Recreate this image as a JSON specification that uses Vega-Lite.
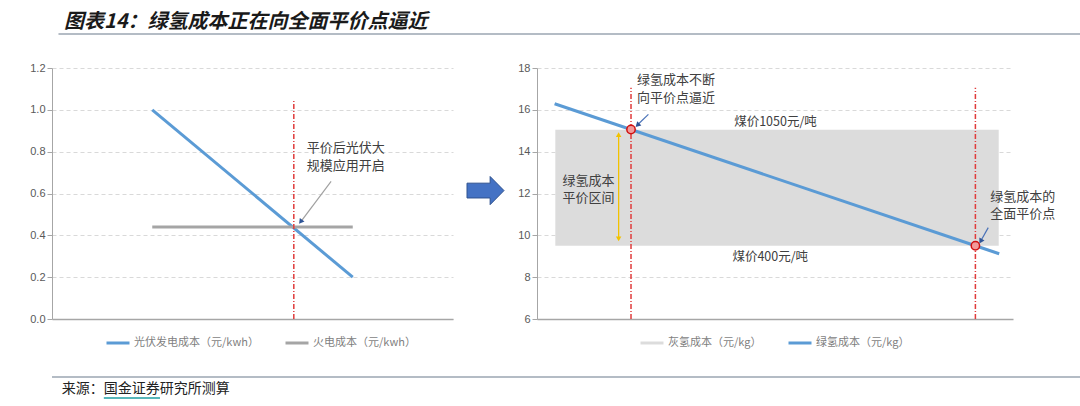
{
  "$schema": "https://vega.github.io/schema/vega-lite/v6.json",
  "background": "white",
  "padding": {"top": 8, "left": 0, "right": 0, "bottom": 0},
  "spacing": 27,
  "vconcat": [
    {
      "width": 1080,
      "height": 26,
      "layer": [
        {
          "data": {"values": [{"x": 1.1, "y": 0.46, "t": "图表14：绿氢成本正在向全面平价点逼近"}]},
          "mark": {"type": "text", "align": "left", "baseline": "middle", "fontSize": 20, "fontWeight": "bold", "fontStyle": "italic", "color": "#1a1a1a"},
          "encoding": {
            "x": {"field": "x", "type": "quantitative", "scale": {"domain": [0, 100]}, "axis": null},
            "y": {"field": "y", "type": "quantitative", "scale": {"domain": [0, 1]}, "axis": null},
            "text": {"field": "t"}
          }
        },
        {
          "data": {"values": [{"x": 0.6, "x2": 100, "y": 0}]},
          "mark": {"type": "rule", "color": "#6b7b8c", "strokeWidth": 1.2},
          "encoding": {
            "x": {"field": "x", "type": "quantitative"},
            "x2": {"field": "x2"},
            "y": {"field": "y", "type": "quantitative"}
          }
        }
      ]
    },
    {
      "spacing": 0,
      "resolve": {"scale": {"color": "independent"}, "legend": {"color": "independent"}},
      "hconcat": [
        {
          "width": 401,
          "height": 251,
          "layer": [
            {
              "data": {"values": [
                {"x": 25, "y": 1.0, "s": "光伏发电成本（元/kwh）"},
                {"x": 75, "y": 0.2, "s": "光伏发电成本（元/kwh）"},
                {"x": 25, "y": 0.44, "s": "火电成本（元/kwh）"},
                {"x": 75, "y": 0.44, "s": "火电成本（元/kwh）"}
              ]},
              "mark": {"type": "line", "strokeWidth": 3},
              "encoding": {
                "x": {"field": "x", "type": "quantitative", "scale": {"domain": [0, 100]},
                  "axis": {"labels": false, "ticks": false, "grid": false, "domainWidth": 1.5}},
                "y": {"field": "y", "type": "quantitative", "scale": {"domain": [0, 1.2]},
                  "axis": {"values": [0, 0.2, 0.4, 0.6, 0.8, 1, 1.2], "format": ".1f", "minExtent": 52, "grid": true}},
                "color": {"field": "s", "type": "nominal",
                  "scale": {"domain": ["光伏发电成本（元/kwh）", "火电成本（元/kwh）"], "range": ["#5b9bd5", "#a5a5a5"]},
                  "legend": {"orient": "none", "legendX": 53, "legendY": 262, "direction": "horizontal", "title": null}}
              }
            },
            {
              "data": {"values": [{"x": 60.3, "y": 0, "y2": 1.047}]},
              "mark": {"type": "rule", "color": "#e03c3c", "strokeWidth": 1.5, "strokeDash": [5, 2, 1, 2]},
              "encoding": {
                "x": {"field": "x", "type": "quantitative"},
                "y": {"field": "y", "type": "quantitative"},
                "y2": {"field": "y2"}
              }
            },
            {
              "data": {"values": [{"x": 69.6, "y": 0.658, "x2": 62.3, "y2": 0.472}]},
              "mark": {"type": "rule", "color": "#a0a0a0", "strokeWidth": 1.2},
              "encoding": {
                "x": {"field": "x", "type": "quantitative"},
                "y": {"field": "y", "type": "quantitative"},
                "x2": {"field": "x2"},
                "y2": {"field": "y2"}
              }
            },
            {
              "data": {"values": [{"x": 62.0, "y": 0.465}]},
              "mark": {"type": "point", "shape": "triangle-up", "angle": 217, "size": 35, "filled": true, "color": "#2f5597", "opacity": 1},
              "encoding": {
                "x": {"field": "x", "type": "quantitative"},
                "y": {"field": "y", "type": "quantitative"}
              }
            },
            {
              "data": {"values": [
                {"x": 63.5, "y": 0.817, "t": "平价后光伏大"},
                {"x": 63.5, "y": 0.733, "t": "规模应用开启"}
              ]},
              "mark": {"type": "text", "align": "left", "baseline": "middle", "fontSize": 13, "color": "#404040"},
              "encoding": {
                "x": {"field": "x", "type": "quantitative"},
                "y": {"field": "y", "type": "quantitative"},
                "text": {"field": "t"}
              }
            }
          ]
        },
        {
          "width": 58,
          "height": 251,
          "data": {"values": [{"x": 32.5, "y": 12.14}]},
          "mark": {"type": "point", "shape": "M-1,-0.4L0.25,-0.4L0.25,-0.76L1,0L0.25,0.76L0.25,0.4L-1,0.4Z", "size": 1369, "filled": true, "fill": "#4472c4", "stroke": "#2f528f", "strokeWidth": 1, "opacity": 1},
          "encoding": {
            "x": {"field": "x", "type": "quantitative", "scale": {"domain": [0, 58]}, "axis": null},
            "y": {"field": "y", "type": "quantitative", "scale": {"domain": [6, 18]}, "axis": null}
          }
        },
        {
          "width": 476,
          "height": 251,
          "layer": [
            {
              "data": {"values": [{"x": 3.85, "x2": 97.0, "y": 9.5, "y2": 15.05}]},
              "mark": {"type": "rect", "color": "#dcdcdc", "opacity": 1},
              "encoding": {
                "x": {"field": "x", "type": "quantitative", "scale": {"domain": [0, 100]},
                  "axis": {"labels": false, "ticks": false, "grid": false, "domainWidth": 1.5}},
                "x2": {"field": "x2"},
                "y": {"field": "y", "type": "quantitative", "scale": {"domain": [6, 18]},
                  "axis": {"values": [6, 8, 10, 12, 14, 16, 18], "format": "d", "minExtent": 26, "grid": true}},
                "y2": {"field": "y2"}
              }
            },
            {
              "data": {"values": [
                {"x": 3.7, "y": 16.29, "s": "绿氢成本（元/kg）"},
                {"x": 97.1, "y": 9.12, "s": "绿氢成本（元/kg）"}
              ]},
              "mark": {"type": "line", "strokeWidth": 3},
              "encoding": {
                "x": {"field": "x", "type": "quantitative"},
                "y": {"field": "y", "type": "quantitative"},
                "color": {"field": "s", "type": "nominal",
                  "scale": {"domain": ["灰氢成本（元/kg）", "绿氢成本（元/kg）"], "range": ["#dcdcdc", "#5b9bd5"]},
                  "legend": {"orient": "none", "legendX": 102, "legendY": 262, "direction": "horizontal", "title": null, "symbolType": "stroke"}}
              }
            },
            {
              "data": {"values": [
                {"x": 19.75, "y": 6, "y2": 17.05},
                {"x": 92.1, "y": 6, "y2": 17.05}
              ]},
              "mark": {"type": "rule", "color": "#e03c3c", "strokeWidth": 1.5, "strokeDash": [5, 2, 1, 2]},
              "encoding": {
                "x": {"field": "x", "type": "quantitative"},
                "y": {"field": "y", "type": "quantitative"},
                "y2": {"field": "y2"}
              }
            },
            {
              "data": {"values": [{"x": 17.15, "y": 9.85, "y2": 14.8}]},
              "mark": {"type": "rule", "color": "#f2c200", "strokeWidth": 1.3},
              "encoding": {
                "x": {"field": "x", "type": "quantitative"},
                "y": {"field": "y", "type": "quantitative"},
                "y2": {"field": "y2"}
              }
            },
            {
              "data": {"values": [
                {"x": 17.15, "y": 14.82, "shape": "triangle-up"},
                {"x": 17.15, "y": 9.83, "shape": "triangle-down"}
              ]},
              "mark": {"type": "point", "size": 30, "filled": true, "color": "#f2c200", "opacity": 1},
              "encoding": {
                "x": {"field": "x", "type": "quantitative"},
                "y": {"field": "y", "type": "quantitative"},
                "shape": {"field": "shape", "type": "nominal", "scale": null}
              }
            },
            {
              "data": {"values": [
                {"x": 19.75, "y": 15.06},
                {"x": 92.1, "y": 9.5}
              ]},
              "mark": {"type": "point", "shape": "circle", "size": 70, "filled": true, "fill": "#f29a9a", "stroke": "#d01010", "strokeWidth": 1.5, "opacity": 1},
              "encoding": {
                "x": {"field": "x", "type": "quantitative"},
                "y": {"field": "y", "type": "quantitative"}
              }
            },
            {
              "data": {"values": [
                {"x": 23.4, "y": 15.78, "x2": 21.3, "y2": 15.32},
                {"x": 94.8, "y": 10.37, "x2": 93.4, "y2": 9.8}
              ]},
              "mark": {"type": "rule", "color": "#4a72b8", "strokeWidth": 1.2},
              "encoding": {
                "x": {"field": "x", "type": "quantitative"},
                "y": {"field": "y", "type": "quantitative"},
                "x2": {"field": "x2"},
                "y2": {"field": "y2"}
              }
            },
            {
              "data": {"values": [
                {"x": 21.1, "y": 15.27, "a": 226},
                {"x": 93.2, "y": 9.72, "a": 210}
              ]},
              "mark": {"type": "point", "shape": "triangle-up", "size": 35, "filled": true, "color": "#2f5597", "opacity": 1},
              "encoding": {
                "x": {"field": "x", "type": "quantitative"},
                "y": {"field": "y", "type": "quantitative"},
                "angle": {"field": "a", "type": "quantitative", "scale": null}
              }
            },
            {
              "data": {"values": [
                {"x": 21.0, "y": 17.45, "t": "绿氢成本不断"},
                {"x": 21.0, "y": 16.55, "t": "向平价点逼近"},
                {"x": 95.2, "y": 11.85, "t": "绿氢成本的"},
                {"x": 95.2, "y": 11.04, "t": "全面平价点"}
              ]},
              "mark": {"type": "text", "align": "left", "baseline": "middle", "fontSize": 13, "color": "#404040"},
              "encoding": {
                "x": {"field": "x", "type": "quantitative"},
                "y": {"field": "y", "type": "quantitative"},
                "text": {"field": "t"}
              }
            },
            {
              "data": {"values": [
                {"x": 10.8, "y": 12.62, "t": "绿氢成本"},
                {"x": 10.8, "y": 11.78, "t": "平价区间"}
              ]},
              "mark": {"type": "text", "align": "center", "baseline": "middle", "fontSize": 13, "color": "#404040"},
              "encoding": {
                "x": {"field": "x", "type": "quantitative"},
                "y": {"field": "y", "type": "quantitative"},
                "text": {"field": "t"}
              }
            },
            {
              "data": {"values": [
                {"x": 50.1, "y": 15.41, "t": "煤价1050元/吨"},
                {"x": 49.0, "y": 8.95, "t": "煤价400元/吨"}
              ]},
              "mark": {"type": "text", "align": "center", "baseline": "middle", "fontSize": 12.5, "color": "#404040"},
              "encoding": {
                "x": {"field": "x", "type": "quantitative"},
                "y": {"field": "y", "type": "quantitative"},
                "text": {"field": "t"}
              }
            }
          ]
        }
      ]
    },
    {
      "width": 1080,
      "height": 24,
      "layer": [
        {
          "data": {"values": [{"x": 0, "x2": 100, "y": 1}]},
          "mark": {"type": "rule", "color": "#6b7b8c", "strokeWidth": 1.2},
          "encoding": {
            "x": {"field": "x", "type": "quantitative", "scale": {"domain": [0, 100]}, "axis": null},
            "x2": {"field": "x2"},
            "y": {"field": "y", "type": "quantitative", "scale": {"domain": [0, 1]}, "axis": null}
          }
        },
        {
          "data": {"values": [{"x": 0.9, "y": 0.5, "t": "来源：国金证券研究所测算"}]},
          "mark": {"type": "text", "align": "left", "baseline": "middle", "fontSize": 14, "color": "#222222"},
          "encoding": {
            "x": {"field": "x", "type": "quantitative"},
            "y": {"field": "y", "type": "quantitative"},
            "text": {"field": "t"}
          }
        },
        {
          "data": {"values": [{"x": 4.8, "x2": 10.0, "y": 0.12}]},
          "mark": {"type": "rule", "color": "#1f9ea3", "strokeWidth": 1.5},
          "encoding": {
            "x": {"field": "x", "type": "quantitative"},
            "x2": {"field": "x2"},
            "y": {"field": "y", "type": "quantitative"}
          }
        }
      ]
    }
  ],
  "config": {
    "view": {"stroke": null},
    "font": "Noto Sans CJK SC",
    "axis": {
      "title": null,
      "labelFont": "Liberation Sans",
      "labelFontSize": 11,
      "labelColor": "#595959",
      "domainColor": "#a6a6a6",
      "tickColor": "#a6a6a6",
      "gridColor": "#d9d9d9",
      "gridDash": [4, 3]
    },
    "legend": {
      "labelFont": "Noto Sans CJK SC",
      "labelFontSize": 11,
      "labelColor": "#7f7f7f",
      "labelOffset": 3,
      "symbolType": "stroke",
      "symbolSize": 529,
      "symbolStrokeWidth": 3,
      "columnPadding": 20
    }
  }
}
